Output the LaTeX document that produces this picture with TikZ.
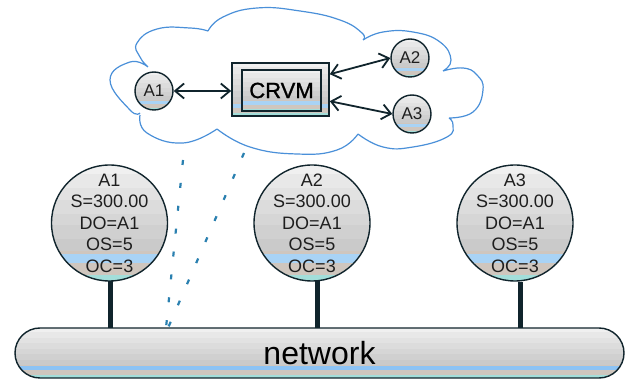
\documentclass[tikz,border=0pt]{standalone}
\usepackage{fontspec}
\setmainfont{Liberation Sans}
\newfontfamily\crvmfont[FakeBold=1.2]{Liberation Sans}
\usetikzlibrary{calc,arrows.meta}
\definecolor{ink}{HTML}{10242C}
\definecolor{txt}{HTML}{1E1E1E}
\definecolor{cloudblue}{HTML}{4A90D9}
\definecolor{dotblue}{HTML}{2A80B0}
\definecolor{ba}{HTML}{F0F0F0}
\definecolor{bb}{HTML}{E8E8E8}
\definecolor{bc}{HTML}{E2E2E2}
\definecolor{bd}{HTML}{DCDCDC}
\definecolor{be}{HTML}{D6D6D6}
\definecolor{bf}{HTML}{D0D0D0}
\definecolor{bg}{HTML}{CACACA}
\definecolor{bt}{HTML}{CFC6BE}
\definecolor{bblue}{HTML}{A9D3F5}
\definecolor{bnet}{HTML}{8CC3F5}
\definecolor{bteal}{HTML}{A3DEDA}
\newcommand{\bandfill}[3]{\fill[#3,sharp corners] ($(path picture bounding box.north west)!#1!(path picture bounding box.south west)$) rectangle ($(path picture bounding box.north east)!#2!(path picture bounding box.south east)$);}
\tikzset{
  bands/.style={path picture={
    \bandfill{0}{.08}{ba}
    \bandfill{.08}{.2}{bb}
    \bandfill{.2}{.3}{bc}
    \bandfill{.3}{.42}{bd}
    \bandfill{.42}{.52}{be}
    \bandfill{.52}{.64}{bf}
    \bandfill{.64}{.74}{bg}
    \bandfill{.74}{.765}{bt}
    \bandfill{.765}{.845}{#1}
    \bandfill{.845}{.95}{bt}
    \bandfill{.95}{1.01}{bteal}
  }},
  bands/.default={bblue},
  bigdisc/.style={circle,draw=ink,line width=1.4pt,bands,minimum size=116pt,inner sep=-12pt,align=center,text=txt,font=\fontsize{18}{21.5}\selectfont},
  smalldisc/.style={circle,draw=ink,line width=1.4pt,bands,minimum size=38pt,inner sep=0pt,text=txt,font=\fontsize{17}{20}\selectfont},
  stem/.style={line width=5pt,draw=ink},
  link/.style={line width=1.8pt,draw=ink,{Straight Barb[length=9pt,width=15pt]}-{Straight Barb[length=9pt,width=15pt]}},
  cloudline/.style={draw=cloudblue,line width=1.2pt},
  dots/.style={draw=dotblue,line width=2.2pt,dash pattern=on 5pt off 18pt},
  boxouter/.style={draw=ink,line width=1.6pt,bands,minimum width=97pt,minimum height=53pt,inner sep=0pt},
  boxinner/.style={draw=ink,line width=1.6pt,bands,minimum width=79pt,minimum height=41pt,inner sep=0pt,text=black,font=\crvmfont\fontsize{22}{24}\selectfont},
  netbar/.style={draw=ink,line width=1.4pt,rounded corners=25pt,bands=bnet,minimum width=609pt,minimum height=50pt,inner sep=0pt,text=black,font=\fontsize{32}{36}\selectfont},
}
\begin{document}
\begin{tikzpicture}[x=1pt,y=-1pt]
\useasboundingbox (0,0) rectangle (625,379);
\fill[white] (0,0) rectangle (625,379);
% cloud
\draw[cloudline]
  plot[smooth,tension=.8] coordinates {(148,67) (130,62) (110,80) (130,110) (140,113)}
  plot[smooth,tension=.8] coordinates {(140,115) (147,133) (183,143) (217,129)}
  plot[smooth,tension=.8] coordinates {(217,129) (250,147) (297,154) (337,150) (358,134)}
  plot[smooth,tension=.8] coordinates {(358,134) (383,147) (413,147) (447,137) (453,125) (449,118)}
  plot[smooth,tension=.8] coordinates {(449,118) (473,112) (483,90) (477,75) (463,68) (443,71)}
  plot[smooth,tension=.8] coordinates {(443,71) (451,60) (440,42) (413,32) (383,32) (363,40)}
  plot[smooth,tension=.8] coordinates {(363,40) (362,33) (340,20) (300,11) (257,8) (223,17) (208,31)}
  plot[smooth,tension=.8] coordinates {(208,31) (190,28) (157,29) (137,43) (140,57) (148,67)};
% network
\node[netbar] (net) at (319.5,353) {network};
% stations
\node[bigdisc] (s1) at (109.5,223) {A1\\S=300.00\\DO=A1\\OS=5\\OC=3};
\node[bigdisc] (s2) at (312,223) {A2\\S=300.00\\DO=A1\\OS=5\\OC=3};
\node[bigdisc] (s3) at (515,223) {A3\\S=300.00\\DO=A1\\OS=5\\OC=3};
\coordinate (j1) at (110,328);
\coordinate (j2) at (317,328);
\coordinate (j3) at (520,328);
\coordinate (t1) at (110,281);
\coordinate (t2) at (317,281);
\coordinate (t3) at (520,282);
\draw[stem] (t1) -- (j1);
\draw[stem] (t2) -- (j2);
\draw[stem] (t3) -- (j3);
% dotted
\coordinate (c1) at (183,160);
\coordinate (c2) at (244,153);
\coordinate (n1) at (166,328);
\coordinate (n2) at (168,328);
\draw[dots] (c1) -- (n1);
\draw[dots] (c2) -- (n2);
% cloud contents
\node[boxouter] (outer) at (280.5,89.5) {};
\node[boxinner] (crvm) at (281.5,90.5) {CRVM};
\node[smalldisc] (a1) at (154,91) {A1};
\node[smalldisc] (a2) at (410,58) {A2};
\node[smalldisc] (a3) at (412,114) {A3};
\coordinate (o2) at ([yshift=-12pt]outer.north east);
\coordinate (o3) at ([yshift=-39pt]outer.north east);
\draw[link] (a1.east) -- (outer.west |- a1.east);
\draw[link] (o2) -- (a2.west);
\draw[link] (o3) -- (a3.west);
\end{tikzpicture}
\end{document}
